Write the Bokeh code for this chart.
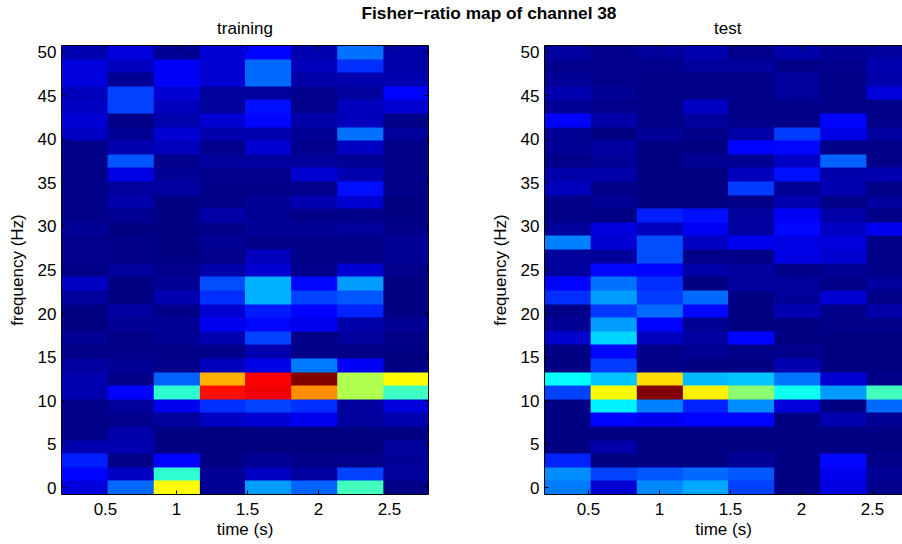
import numpy as np
from bokeh.plotting import figure
from bokeh.embed import file_html
from bokeh.resources import INLINE
from bokeh.layouts import row, column
from bokeh.models import (LinearColorMapper, LinearAxis, FixedTicker, Range1d, Div, Title)

SUPTITLE = "Fisher\u2212ratio map of channel 38"
TITLES = ["training", "test"]
XLABEL = "time (s)"
YLABEL = "frequency (Hz)"
XTICKS = [0.5, 1, 1.5, 2, 2.5]
XTICK_LABELS = {0.5: "0.5", 1: "1", 1.5: "1.5", 2: "2", 2.5: "2.5"}
YTICKS = [0, 5, 10, 15, 20, 25, 30, 35, 40, 45, 50]
TIMES = [0.352, 0.675, 0.998, 1.321, 1.644, 1.967, 2.29, 2.613]
FREQ_TOP_DOWN = [50, 48.4375, 46.875, 45.3125, 43.75, 42.1875, 40.625, 39.0625, 37.5, 35.9375, 34.375, 32.8125,
                 31.25, 29.6875, 28.125, 26.5625, 25, 23.4375, 21.875, 20.3125, 18.75, 17.1875, 15.625, 14.0625,
                 12.5, 10.9375, 9.375, 7.8125, 6.25, 4.6875, 3.125, 1.5625, 0]

TRAIN = [
    [.05, .09, .02, .085, .125, .05, .235, .04],
    [.09, .0625, .12, .08, .23, .06, .17, .04],
    [.09, .02, .12, .08, .23, .04, .045, .05],
    [.06, .19, .085, .03, .03, .015, .03, .125],
    [.07, .19, .06, .03, .14, .015, .06, .08],
    [.085, .01, .045, .08, .13, .04, .06, .01],
    [.07, .02, .085, .045, .05, .02, .235, .03],
    [.01, .05, .06, .015, .08, .015, .07, .01],
    [.01, .21, .015, .03, .035, .03, .02, .01],
    [.01, .1, .02, .015, .015, .08, .05, .01],
    [.01, .03, .035, .01, .01, .015, .14, .01],
    [.01, .04, .005, .01, .02, .05, .08, .005],
    [.01, .02, .005, .04, .02, .01, .01, .005],
    [.025, .005, .005, .01, .025, .025, .03, .01],
    [.015, .01, .005, .02, .01, .01, .01, .025],
    [.015, .01, .005, .01, .06, .01, .01, .025],
    [.01, .03, .015, .04, .08, .015, .085, .015],
    [.07, .005, .02, .2, .3, .13, .28, .005],
    [.03, .005, .05, .17, .3, .19, .21, .005],
    [.005, .035, .01, .08, .15, .125, .16, .005],
    [.005, .02, .02, .11, .13, .11, .04, .02],
    [.02, .01, .025, .05, .19, .01, .03, .01],
    [.01, .01, .01, .015, .05, .01, .01, .005],
    [.035, .02, .015, .06, .1, .245, .115, .005],
    [.05, .01, .22, .70, .875, 1.0, .55, .625],
    [.05, .125, .42, .86, .89, .735, .55, .435],
    [.01, .03, .11, .17, .19, .17, .03, .09],
    [.01, .015, .03, .07, .085, .11, .03, .05],
    [.01, .04, .005, 0, 0, 0, 0, .005],
    [.05, .05, .005, 0, 0, 0, 0, .03],
    [.155, .01, .125, .005, .02, .01, .015, .025],
    [.125, .07, .42, .02, .07, .035, .19, .03],
    [.09, .23, .625, .02, .28, .22, .44, .01],
]
TEST = [
    [.035, .015, .03, .05, .015, .04, .02, .03],
    [.015, .015, .015, .03, .03, .01, .015, .05],
    [.025, .015, .01, .01, .01, .03, .01, .045],
    [.05, .02, .01, .01, .01, .03, .01, .09],
    [.02, .015, .01, .07, .01, .01, .01, .01],
    [.125, .04, .01, .03, .01, .01, .125, .01],
    [.02, .005, .025, .01, .04, .18, .1, .035],
    [.02, .035, .005, .005, .125, .13, .01, .01],
    [.01, .025, .005, .02, .02, .07, .22, .01],
    [.04, .04, .005, .005, .06, .14, .045, .05],
    [.06, .01, .005, .005, .18, .02, .05, .01],
    [.01, .02, .005, .005, .01, .05, .01, .03],
    [.01, .005, .155, .14, .03, .12, .04, .01],
    [.03, .09, .06, .115, .035, .13, .07, .11],
    [.25, .085, .2, .07, .11, .1, .09, .01],
    [.03, .03, .2, .01, .01, .1, .08, .01],
    [.03, .13, .125, .04, .03, .01, .02, .01],
    [.125, .235, .17, .005, .03, .03, .01, .03],
    [.17, .28, .18, .23, .005, .025, .08, .01],
    [.01, .18, .23, .13, .005, .05, .01, .04],
    [.02, .28, .125, .02, .005, .005, .01, .01],
    [.075, .335, .065, .035, .125, .005, .005, .005],
    [.005, .13, .01, .02, .01, .015, .005, .005],
    [.005, .18, .01, .005, .005, .05, .005, .005],
    [.375, .32, .66, .305, .32, .24, .08, .01],
    [.19, .625, 1.0, .64, .515, .39, .28, .44],
    [.005, .36, .25, .16, .265, .09, .005, .23],
    [.005, .125, .11, .125, .125, .005, .05, .02],
    [.005, .005, .005, .005, .005, .005, .005, .005],
    [.005, .04, .005, .005, .005, .005, .005, .005],
    [.16, .005, .005, .005, .025, .005, .13, .01],
    [.265, .19, .21, .23, .21, .005, .11, .02],
    [.245, .08, .26, .29, .19, .005, .095, .015],
]


def jet_palette(n=256):
    def ch(x):
        return max(0.0, min(1.0, x))
    out = []
    for i in range(n):
        v = (i + 0.5) / n
        r = ch(1.5 - abs(4 * v - 3))
        g = ch(1.5 - abs(4 * v - 2))
        b = ch(1.5 - abs(4 * v - 1))
        out.append("#%02x%02x%02x" % (round(r * 255), round(g * 255), round(b * 255)))
    return out


MAPPER = LinearColorMapper(palette=jet_palette(), low=0, high=1)
FONT = "Liberation Sans"
TSTEP = TIMES[1] - TIMES[0]
FSTEP = FREQ_TOP_DOWN[0] - FREQ_TOP_DOWN[1]
X0 = TIMES[0] - TSTEP / 2
Y0 = FREQ_TOP_DOWN[-1] - FSTEP / 2
DW = TSTEP * len(TIMES)
DH = FSTEP * len(FREQ_TOP_DOWN)
UP = 12


def panel(vals, title, width, border_left, frame_w, border_right, x_end, has_right, title_align, title_offset):
    arr = np.array(vals, dtype=float)[::-1]
    img = np.repeat(np.repeat(arr, UP, axis=0), UP, axis=1)
    p = figure(width=width, height=544, output_backend="svg", toolbar_location=None,
               x_range=Range1d(X0, x_end), y_range=Range1d(Y0, Y0 + DH),
               min_border_left=border_left, min_border_right=border_right,
               min_border_top=45, min_border_bottom=50, frame_width=frame_w, frame_height=449,
               border_fill_color=None, background_fill_color=None)
    p.image(image=[img], x=X0, y=Y0, dw=DW, dh=DH, color_mapper=MAPPER)
    p.xgrid.visible = False
    p.ygrid.visible = False
    p.outline_line_color = None
    axes = [p.xaxis[0], p.yaxis[0]]
    top = LinearAxis(major_label_overrides={t: "" for t in XTICKS}, major_label_standoff=0,
                     major_label_text_font_size="1px")
    p.add_layout(top, "above")
    mirror = [top]
    top.ticker = FixedTicker(ticks=XTICKS)
    if has_right:
        rgt = LinearAxis(major_label_overrides={t: "" for t in YTICKS}, major_label_standoff=0,
                         major_label_text_font_size="1px")
        p.add_layout(rgt, "right")
        rgt.ticker = FixedTicker(ticks=YTICKS)
        mirror.append(rgt)
    p.add_layout(Title(text=title, text_font=FONT, text_font_size="17px", text_font_style="normal",
                       align=title_align, text_color="#000000", standoff=15, offset=title_offset), "above")
    xa, ya = axes
    xa.ticker = FixedTicker(ticks=XTICKS)
    xa.major_label_overrides = XTICK_LABELS
    ya.ticker = FixedTicker(ticks=YTICKS)
    xa.axis_label = XLABEL
    ya.axis_label = YLABEL
    for a in axes:
        a.major_label_text_font = FONT
        a.major_label_text_font_size = "17px"
        a.major_label_text_color = "#000000"
        a.axis_label_text_font = FONT
        a.axis_label_text_font_size = "17px"
        a.axis_label_text_font_style = "normal"
        a.axis_label_text_color = "#000000"
    for a in axes + mirror:
        a.major_tick_in = 4
        a.major_tick_out = 0
        a.minor_tick_line_color = None
        a.axis_line_color = "black"
        a.major_tick_line_color = "black"
    xa.axis_label_standoff = 2
    xa.major_label_standoff = 8
    ya.axis_label_standoff = 8
    ya.major_label_standoff = 5
    return p


left = panel(TRAIN, TITLES[0], 480, 61, 367, 52, X0 + 367 / 142, True, "center", 0)
right = panel(TEST, TITLES[1], 422, 64, 358, 0, X0 + 358 / 142, False, "left", 169.5)
sup = Div(text=SUPTITLE, width=400, height=18, margin=(1, 0, -19, 289),
          styles={"font-family": FONT, "font-size": "17.3px", "font-weight": "bold", "color": "#000", "text-align": "center"})
layout = column(sup, row(left, right, spacing=0), spacing=0)
open("out.html", "w").write(file_html(layout, INLINE))
